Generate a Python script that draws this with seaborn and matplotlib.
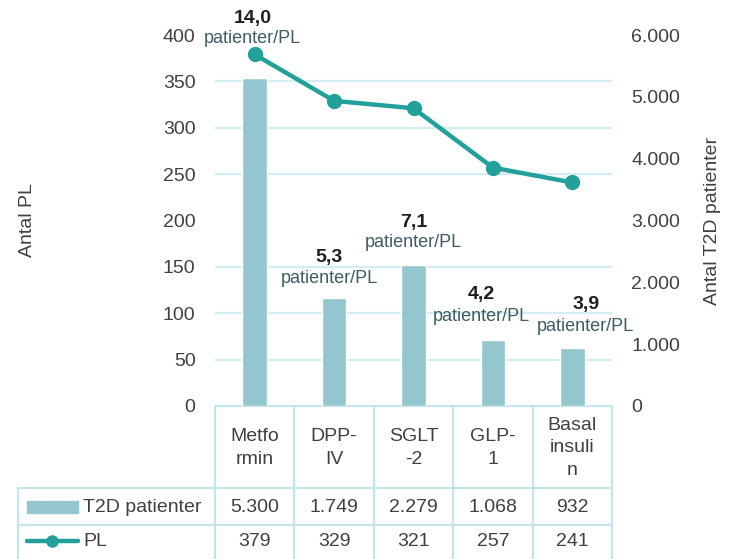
import numpy as np
import pandas as pd
import matplotlib
matplotlib.use("Agg")
import matplotlib.pyplot as plt
from matplotlib.lines import Line2D
from matplotlib.patches import Rectangle
import seaborn as sns

# data
categories = ["Metformin", "DPP-IV", "SGLT-2", "GLP-1", "Basal insulin"]
header_labels = ["Metfo\nrmin", "DPP-\nIV", "SGLT\n-2", "GLP-\n1", "Basal\ninsuli\nn"]
t2d_patients = [5300, 1749, 2279, 1068, 932]
pl_counts = [379, 329, 321, 257, 241]
left_ticks = [0, 50, 100, 150, 200, 250, 300, 350, 400]
right_ticks = [0, 1000, 2000, 3000, 4000, 5000, 6000]

# label placement (x shift in category units, y of number / text in PL units)
label_dx = [-0.03, -0.06, 0.0, -0.15, 0.17]
label_y_num = [418, 160, 198, 120, 109]
label_y_txt = [396, 137, 176, 97, 86]

bar_color = "#93c6cf"
line_color = "#22a09a"
grid_color = "#d3edf1"
table_color = "#c6e5ea"
text_color = "#404040"
note_color = "#3f5b63"


def dotfmt(v):
    return f"{v:,}".replace(",", ".")


sns.set_theme(style="white")
plt.rcParams["font.family"] = ["Liberation Sans Narrow", "Liberation Sans", "DejaVu Sans"]

df = pd.DataFrame({"cat": categories, "idx": range(len(categories)),
                   "t2d": t2d_patients, "pl": pl_counts})

W, H = 732, 559
fig = plt.figure(figsize=(W / 100, H / 100), dpi=100)
x0, x1, ytop, ybot = 215, 612, 35, 406
ax = fig.add_axes([x0 / W, (H - ybot) / H, (x1 - x0) / W, (ybot - ytop) / H])
ax2 = ax.twinx()

# bars on the right axis
sns.barplot(data=df, x="idx", y="t2d", ax=ax2, color=bar_color, saturation=1,
            width=0.31, zorder=2)
ax2.set_ylim(0, 6000)
ax2.set_yticks(right_ticks)
ax2.set_yticklabels([dotfmt(v) for v in right_ticks])
ax2.set_yticks(np.arange(0, 6001, 750), minor=True)
ax2.grid(False)
ax2.grid(which="minor", axis="y", color=grid_color, lw=1.6)
ax2.set_axisbelow(True)
ax2.tick_params(axis="y", which="both", length=0, pad=14, labelsize=14, labelcolor=text_color)
ax2.set_ylabel("Antal T2D patienter", fontsize=14, color=text_color)
ax2.yaxis.set_label_coords(1.232, 0.5)

# line on the left axis
sns.lineplot(data=df, x="idx", y="pl", ax=ax, color=line_color, lw=3.2,
             marker="o", markersize=11, markeredgewidth=0)
ax.set_zorder(ax2.get_zorder() + 1)
ax.patch.set_visible(False)
ax.set_ylim(0, 400)
ax.set_xlim(-0.5, len(categories) - 0.5)
ax.set_yticks(left_ticks)
ax.tick_params(axis="y", length=0, pad=14, labelsize=14, labelcolor=text_color)
ax.set_ylabel("Antal PL", fontsize=14, color=text_color)
ax.yaxis.set_label_coords(-0.45, 0.5)
ax.set_xlabel("")
ax2.set_xlabel("")
ax.set_xticks([])
for a in (ax, ax2):
    for s in a.spines.values():
        s.set_visible(False)

# patients per PL labels
for i, (t, p) in enumerate(zip(t2d_patients, pl_counts)):
    ratio = f"{t / p:.1f}".replace(".", ",")
    ax.text(i + label_dx[i], label_y_num[i], ratio, ha="center", va="center",
            fontsize=14, fontweight="bold", color="#1f1f1f",
            family=["Liberation Sans", "DejaVu Sans"], clip_on=False)
    ax.text(i + label_dx[i], label_y_txt[i], "patienter/PL", ha="center", va="center",
            fontsize=13, color=note_color,
            family=["Liberation Sans", "DejaVu Sans"], clip_on=False)

# data table under the plot
tab = fig.add_axes([0, 0, 1, 1], zorder=-5)
tab.set_xlim(0, W)
tab.set_ylim(H, 0)
tab.axis("off")
n = len(categories)
cw = (x1 - x0) / n
row1, row2, tleft = 488, 525, 18
kw = dict(color=table_color, lw=1.6)
tab.add_line(Line2D([x0, x1], [ybot, ybot], **kw))
tab.add_line(Line2D([tleft, x1], [row1, row1], **kw))
tab.add_line(Line2D([tleft, x1], [row2, row2], **kw))
tab.add_line(Line2D([tleft, tleft], [row1, H], **kw))
for k in range(n + 1):
    tab.add_line(Line2D([x0 + k * cw] * 2, [ybot, H], **kw))

for i in range(n):
    cx = x0 + (i + 0.5) * cw
    tab.text(cx, (ybot + row1) / 2 + 1, header_labels[i], ha="center", va="center",
             multialignment="center", linespacing=1.45, fontsize=14, color=text_color)
    tab.text(cx, (row1 + row2) / 2 + 1, dotfmt(t2d_patients[i]), ha="center",
             va="center", fontsize=14, color=text_color)
    tab.text(cx, 541, dotfmt(pl_counts[i]), ha="center", va="center",
             fontsize=14, color=text_color)

tab.add_patch(Rectangle((27, 501), 51, 12, color=bar_color))
tab.text(83, 507, "T2D patienter", ha="left", va="center", fontsize=14, color=text_color)
tab.add_line(Line2D([27, 78], [541, 541], color=line_color, lw=3.2))
tab.add_line(Line2D([52], [541], color=line_color, marker="o", markersize=9, markeredgewidth=0))
tab.text(83, 541, "PL", ha="left", va="center", fontsize=14, color=text_color)

fig.savefig("out.png", dpi=100)
